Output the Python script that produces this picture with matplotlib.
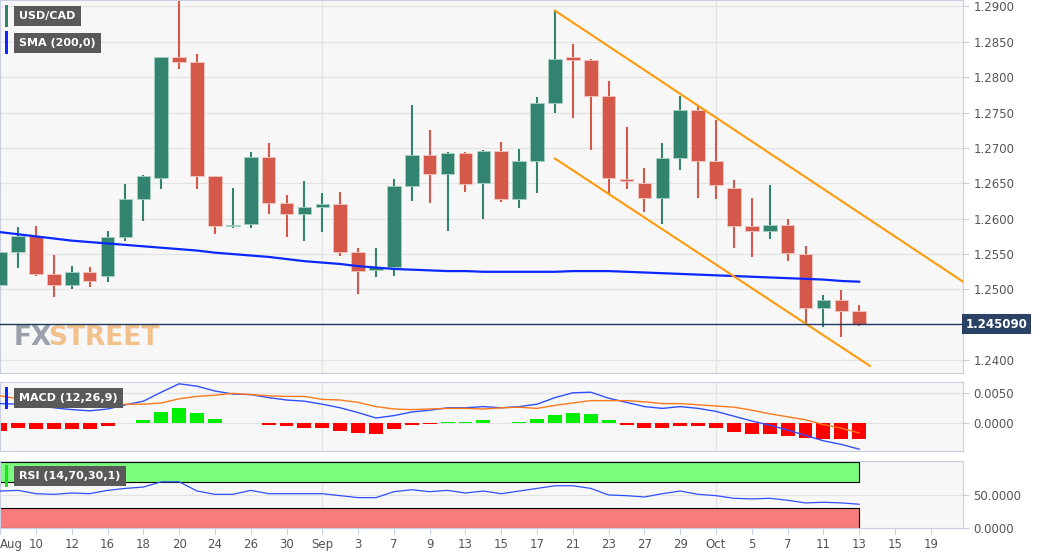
import matplotlib
matplotlib.use("Agg")
import matplotlib.pyplot as plt
from matplotlib.patches import Rectangle

# daily USD/CAD candles (weekdays), index 0 .. 48
opens = [1.2506, 1.2553, 1.2576, 1.2522, 1.2506, 1.2525, 1.2519, 1.2574, 1.2628, 1.2658,
         1.2828, 1.2821, 1.2660, 1.2589, 1.2592, 1.2687, 1.2622, 1.2607, 1.2617, 1.2621,
         1.2553, 1.2528, 1.2532, 1.2646, 1.2690, 1.2663, 1.2693, 1.2651, 1.2696, 1.2628,
         1.2682, 1.2763, 1.2829, 1.2824, 1.2774, 1.2656, 1.2651, 1.2629, 1.2686, 1.2754,
         1.2681, 1.2644, 1.2590, 1.2582, 1.2591, 1.2550, 1.2474, 1.2485, 1.2470]
highs = [1.2555, 1.2588, 1.2589, 1.2549, 1.2533, 1.2532, 1.2583, 1.2649, 1.2662, 1.2829,
         1.2915, 1.2832, 1.2661, 1.2643, 1.2694, 1.2707, 1.2633, 1.2653, 1.2636, 1.2638,
         1.2558, 1.2558, 1.2656, 1.2761, 1.2726, 1.2694, 1.2694, 1.2697, 1.2708, 1.2699,
         1.2772, 1.2894, 1.2847, 1.2825, 1.2794, 1.2729, 1.2672, 1.2707, 1.2774, 1.2761,
         1.2739, 1.2654, 1.2629, 1.2647, 1.2599, 1.2562, 1.2492, 1.2499, 1.2478]
lows = [1.2493, 1.2531, 1.2519, 1.2489, 1.2500, 1.2503, 1.2511, 1.2569, 1.2597, 1.2642,
        1.2812, 1.2642, 1.2578, 1.2587, 1.2587, 1.2606, 1.2574, 1.2569, 1.2581, 1.2547,
        1.2493, 1.2517, 1.2519, 1.2625, 1.2622, 1.2582, 1.2638, 1.2600, 1.2624, 1.2615,
        1.2636, 1.2750, 1.2742, 1.2697, 1.2635, 1.2642, 1.2610, 1.2593, 1.2669, 1.2629,
        1.2628, 1.2558, 1.2546, 1.2571, 1.2540, 1.2451, 1.2447, 1.2433, 1.2449]
closes = [1.2553, 1.2576, 1.2522, 1.2506, 1.2525, 1.2512, 1.2574, 1.2628, 1.2660, 1.2828,
          1.2821, 1.2661, 1.2590, 1.2591, 1.2687, 1.2622, 1.2607, 1.2617, 1.2621, 1.2553,
          1.2526, 1.2532, 1.2646, 1.2690, 1.2663, 1.2693, 1.2649, 1.2696, 1.2628, 1.2682,
          1.2763, 1.2826, 1.2824, 1.2774, 1.2657, 1.2653, 1.2629, 1.2686, 1.2754, 1.2681,
          1.2647, 1.2590, 1.2582, 1.2591, 1.2551, 1.2474, 1.2485, 1.2470, 1.24509]
sma200 = [1.2581, 1.2578, 1.2575, 1.2572, 1.2569, 1.2567, 1.2565, 1.2563, 1.2561, 1.2559,
          1.2557, 1.2555, 1.2552, 1.2550, 1.2548, 1.2546, 1.2543, 1.2540, 1.2538, 1.2536,
          1.2533, 1.2531, 1.2529, 1.2528, 1.2527, 1.2526, 1.2526, 1.2525, 1.2525, 1.2525,
          1.2525, 1.2525, 1.2526, 1.2526, 1.2526, 1.2525, 1.2524, 1.2523, 1.2522, 1.2521,
          1.2520, 1.2519, 1.2518, 1.2517, 1.2516, 1.2515, 1.2514, 1.2512, 1.2511]

macd = [0.0032, 0.0031, 0.0029, 0.0025, 0.0022, 0.0020, 0.0023, 0.0030, 0.0036, 0.0051,
        0.0065, 0.0061, 0.0053, 0.0048, 0.0047, 0.0042, 0.0038, 0.0036, 0.0031, 0.0025,
        0.0017, 0.0008, 0.0012, 0.0018, 0.0021, 0.0025, 0.0025, 0.0027, 0.0025, 0.0027,
        0.0031, 0.0042, 0.0050, 0.0051, 0.0041, 0.0034, 0.0027, 0.0024, 0.0027, 0.0024,
        0.0019, 0.0011, 0.0003, -0.0004, -0.0012, -0.0021, -0.0030, -0.0036, -0.0044]
signal = [0.0045, 0.0040, 0.0039, 0.0036, 0.0032, 0.0030, 0.0029, 0.0031, 0.0031, 0.0033,
          0.0040, 0.0044, 0.0046, 0.0049, 0.0047, 0.0045, 0.0044, 0.0044, 0.0039, 0.0038,
          0.0034, 0.0027, 0.0023, 0.0022, 0.0023, 0.0024, 0.0024, 0.0023, 0.0025, 0.0026,
          0.0024, 0.0029, 0.0033, 0.0037, 0.0037, 0.0037, 0.0035, 0.0032, 0.0032, 0.0030,
          0.0028, 0.0026, 0.0021, 0.0015, 0.0010, 0.0005, -0.0003, -0.0009, -0.0017]
hist = [-0.0013, -0.0009, -0.0010, -0.0011, -0.0010, -0.0010, -0.0006, -0.0001, 0.0005, 0.0018,
        0.0025, 0.0017, 0.0007, -0.0001, 0.0000, -0.0003, -0.0006, -0.0008, -0.0008, -0.0013,
        -0.0017, -0.0019, -0.0011, -0.0004, -0.0002, 0.0001, 0.0001, 0.0004, 0.0000, 0.0001,
        0.0007, 0.0013, 0.0017, 0.0014, 0.0004, -0.0003, -0.0008, -0.0008, -0.0005, -0.0006,
        -0.0009, -0.0015, -0.0018, -0.0019, -0.0022, -0.0026, -0.0027, -0.0027, -0.0027]
rsi = [56, 57, 52, 51, 53, 52, 57, 60, 62, 70, 70, 56, 51, 51, 57, 52, 52, 52, 52, 49,
       46, 46, 55, 58, 55, 57, 53, 56, 52, 56, 60, 64, 64, 60, 50, 49, 47, 52, 56, 51,
       49, 45, 44, 45, 42, 38, 39, 38, 36]

# descending channel (index, price) endpoints
upper_channel = ([31, 53.8], [1.2894, 1.2511])
lower_channel = ([31, 48.6], [1.2685, 1.2392])

tick_labels = ["Aug", "10", "12", "16", "18", "20", "24", "26", "30", "Sep", "3", "7", "9",
               "13", "15", "17", "21", "23", "27", "29", "Oct", "5", "7", "11", "13", "15", "19"]
last_price = 1.245090

GREEN = "#328470"
RED = "#d4594a"
BG = "#f7f7f7"
GRID = "#e3e3e3"
TXT = "#555555"

fig = plt.figure(figsize=(10.6, 5.55), dpi=100)
fig.patch.set_facecolor("white")
W = 963 / 1060
ax = fig.add_axes([0, 1 - 373 / 555, W, 373 / 555])
ax_m = fig.add_axes([0, 1 - 451 / 555, W, 69 / 555], sharex=ax)
ax_r = fig.add_axes([0, 1 - 528 / 555, W, 67 / 555], sharex=ax)

xmin, xmax = -0.01, 53.8
for a in (ax, ax_m, ax_r):
    a.set_facecolor(BG)
    a.yaxis.tick_right()
    a.tick_params(axis="y", colors=TXT, labelsize=8.5, length=4, color="#c8cfe0")
    a.tick_params(axis="x", colors=TXT, labelsize=8.5, length=4, color="#c8cfe0")
    for s in a.spines.values():
        s.set_color("#c8cfe0")
    a.grid(axis="y", color=GRID, linewidth=0.9)
    a.set_axisbelow(True)
    for m in (9, 20):
        a.axvline(m * 2, color=GRID, linewidth=0.9, zorder=0)
ax.set_xlim(xmin, xmax)

# candles
n = len(closes)
for i in range(n):
    col = GREEN if closes[i] >= opens[i] else RED
    ax.vlines(i, lows[i], highs[i], color=col, linewidth=1.5, zorder=2)
    lo, hi = min(opens[i], closes[i]), max(opens[i], closes[i])
    ax.add_patch(Rectangle((i - 0.38, lo), 0.76, max(hi - lo, 0.00012), facecolor=col,
                           edgecolor="#f0c8c0" if col == RED else "#a8d0c4",
                           linewidth=0.6, zorder=3))
ax.plot(range(n), sma200, color="#0a28ff", linewidth=1.6, zorder=4)
ax.plot(*upper_channel, color="#ff9a0a", linewidth=1.5, zorder=4)
ax.plot(*lower_channel, color="#ff9a0a", linewidth=1.5, zorder=4)
ax.axhline(last_price, color="#1e3a5f", linewidth=1, zorder=4)
ax.set_ylim(1.2382, 1.2909)
ax.set_yticks([1.2400, 1.2500, 1.2550, 1.2600, 1.2650, 1.2700, 1.2750, 1.2800, 1.2850, 1.2900])
ax.set_yticklabels(["1.2400", "1.2500", "1.2550", "1.2600", "1.2650", "1.2700", "1.2750",
                    "1.2800", "1.2850", "1.2900"])
ax.text(1.0 + 0.003, last_price, "1.245090", transform=ax.get_yaxis_transform(),
        ha="left", va="center", color="white", fontsize=8.5, fontweight="bold",
        bbox=dict(boxstyle="square,pad=0.3", facecolor="#2a4365", edgecolor="none"), zorder=10,
        clip_on=False)
plt.setp(ax.get_xticklabels(), visible=False)
ax.tick_params(axis="x", length=0)

# watermark
ax.text(0.014, 0.095, "FX", transform=ax.transAxes, fontsize=19, fontweight="bold",
        color="#9aa0aa", va="center")
ax.text(0.050, 0.095, "STREET", transform=ax.transAxes, fontsize=19, fontweight="bold",
        color="#f2c08a", va="center")


def tag(a, y, text, bar):
    a.text(0.02, y, text, transform=a.transAxes, color="white", fontsize=8, fontweight="bold",
           va="center", ha="left", zorder=12,
           bbox=dict(boxstyle="square,pad=0.45", facecolor="#595959", edgecolor="none"))
    a.add_patch(Rectangle((0.005, y - 0.03 * (373 / a.bbox.height)), 0.003,
                          0.06 * (373 / a.bbox.height), transform=a.transAxes,
                          facecolor=bar, edgecolor="none", zorder=13, clip_on=False))


tag(ax, 0.957, "USD/CAD", GREEN)
tag(ax, 0.886, "SMA (200,0)", "#0a28ff")

# MACD
hist_colors = ["#00ee00" if h > 0 else ("#ffc8c8" if h == 0 else "#ff0000") for h in hist]
ax_m.bar(range(n), hist, width=0.78, color=hist_colors, zorder=2)
ax_m.plot(range(n), macd, color="#3050ff", linewidth=1, zorder=3)
ax_m.plot(range(n), signal, color="#ff7a1a", linewidth=1, zorder=3)
ax_m.set_ylim(-0.0047, 0.0068)
ax_m.set_yticks([0.0, 0.005])
ax_m.set_yticklabels(["0.0000", "0.0050"])
plt.setp(ax_m.get_xticklabels(), visible=False)
ax_m.tick_params(axis="x", length=0)
tag(ax_m, 0.77, "MACD (12,26,9)", "#0a28ff")

# RSI
ax_r.add_patch(Rectangle((-1, 70), n, 30, facecolor="#7cfc7c", edgecolor="black",
                         linewidth=0.8, zorder=1))
ax_r.add_patch(Rectangle((-1, 0), n, 30, facecolor="#f87c7c", edgecolor="black",
                         linewidth=0.8, zorder=1))
ax_r.plot(range(n), rsi, color="#3050ff", linewidth=0.9, zorder=3)
ax_r.set_ylim(0, 101.5)
ax_r.set_yticks([0, 50])
ax_r.set_yticklabels(["0.0000", "50.0000"])
ax_r.set_xticks(range(0, 54, 2))
ax_r.set_xticklabels(tick_labels)
ax_r.get_xticklabels()[0].set_horizontalalignment("left")
ax_r.grid(axis="x", visible=False)
tag(ax_r, 0.78, "RSI (14,70,30,1)", "#22dd22")

fig.savefig("out.png", dpi=100, facecolor="white")
